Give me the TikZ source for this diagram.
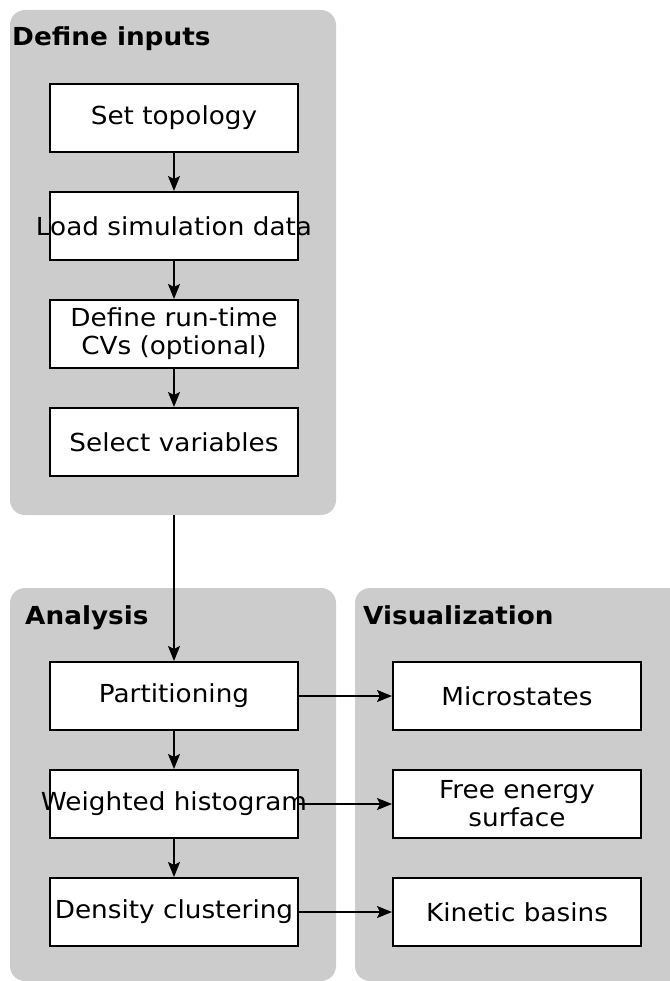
\documentclass[tikz,border=0pt]{standalone}
\usepackage{fontspec}
\setmainfont{DejaVu Sans}[FakeStretch=1.06]
\usepackage{tikz}
\usetikzlibrary{arrows.meta,positioning}
\definecolor{panelgray}{HTML}{CCCCCC}
\tikzstyle{panel} = [fill=panelgray,rounded corners=15pt,inner sep=0pt,outer sep=0pt]
\tikzstyle{block} = [rectangle,draw=black,fill=white,line width=2pt,minimum width=248pt,minimum height=68pt,inner sep=2pt,align=center,font=\fontsize{24.8}{28}\selectfont]
\tikzstyle{title} = [anchor=base west,inner sep=0pt,font=\fontsize{24.8}{28}\selectfont\bfseries]
\tikzset{arr/.style={line width=1.8pt,-{Stealth[length=15pt,width=12pt,inset=3pt]}}}

\begin{document}
\begin{tikzpicture}[x=1pt,y=-1pt,node distance=38pt]
    \useasboundingbox (0,0) rectangle (669,981);
    % panels
    \node [panel,minimum width=326pt,minimum height=505pt] (inputs) at (173,262.5) {};
    \node [panel,minimum width=326pt,minimum height=393pt] (analysis) at (173,784.5) {};
    \node [panel,minimum width=340pt,minimum height=393pt] (visual) at (525,784.5) {};
    \node [title] (tinputs) at (12,46) {Define inputs};
    \node [title] (tanalysis) at (25,624) {Analysis};
    \node [title] (tvisual) at (363,624) {Visualization};
    % inputs
    \node [block] (topo) at (174,118) {Set topology};
    \node [block,below=of topo] (load) {\makebox[0pt]{Load simulation data}};
    \node [block,below=of load] (cvs) {Define run-time\\CVs (optional)};
    \node [block,below=of cvs] (select) {Select variables};
    % analysis
    \node [block] (part) at (174,696) {Partitioning};
    \node [block,below=of part] (hist) {\makebox[0pt]{Weighted histogram}};
    \node [block,below=of hist] (dens) {Density clustering};
    % visualization
    \node [block,right=93pt of part] (micro) {Microstates};
    \node [block,right=93pt of hist] (fes) {Free energy\\surface};
    \node [block,right=93pt of dens] (basins) {Kinetic basins};
    % arrows
    \draw [arr] (topo) -- (load);
    \draw [arr] (load) -- (cvs);
    \draw [arr] (cvs) -- (select);
    \draw [arr] (part |- inputs.south) -- (part);
    \draw [arr] (part) -- (hist);
    \draw [arr] (hist) -- (dens);
    \draw [arr] (part) -- (micro);
    \draw [arr] (hist) -- (fes);
    \draw [arr] (dens) -- (basins);
\end{tikzpicture}
\end{document}
